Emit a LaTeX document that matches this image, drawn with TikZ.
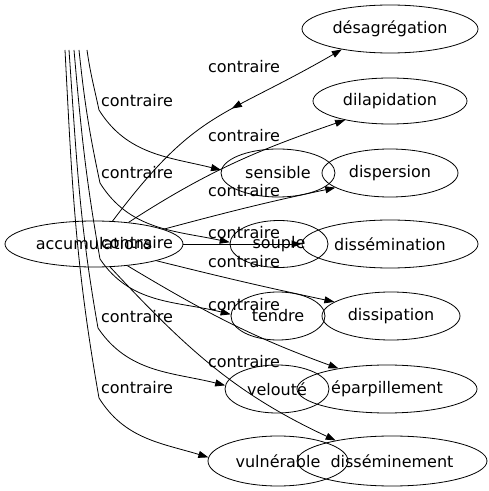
\documentclass[tikz,border=0pt]{standalone}
\usepackage{fontspec}
\setmainfont{DejaVu Sans}
\usetikzlibrary{shapes.geometric,arrows.meta,decorations.markings}

\begin{document}
\begin{tikzpicture}[x=1pt,y=1pt,
    every node/.style={font=\fontsize{16}{19}\selectfont},
    mot/.style={ellipse,draw,line width=0.8pt,inner sep=0pt},
    rel/.style={inner sep=0pt},
    fleche/.style={line width=0.8pt,-{Triangle[length=10pt,width=7pt]}}]

	\useasboundingbox (0,0) rectangle (489,491);

	% Mot central
	\node[mot,minimum width=178pt,minimum height=46pt] (accumulations) at (94,247) {accumulations};

	% Contraires (colonne de droite)
	\node[mot,minimum width=176pt,minimum height=48pt] (desagregation) at (390,462) {désagrégation};
	\node[mot,minimum width=154pt,minimum height=46pt] (dilapidation) at (390,390) {dilapidation};
	\node[mot,minimum width=136pt,minimum height=48pt] (dispersion) at (390,318) {dispersion};
	\node[mot,minimum width=176pt,minimum height=48pt] (dissemination) at (390,247) {dissémination};
	\node[mot,minimum width=138pt,minimum height=48pt] (dissipation) at (391,175) {dissipation};
	\node[mot,minimum width=180pt,minimum height=48pt] (eparpillement) at (387,102) {éparpillement};
	\node[mot,minimum width=190pt,minimum height=50pt] (disseminement) at (392,30) {disséminement};

	% Contraires (colonne du milieu)
	\node[mot,minimum width=114pt,minimum height=48pt] (sensible) at (278,318) {sensible};
	\node[mot,minimum width=98pt,minimum height=47pt] (souple) at (279,247) {souple};
	\node[mot,minimum width=94pt,minimum height=48pt] (tendre) at (278,175) {tendre};
	\node[mot,minimum width=104pt,minimum height=48pt] (veloute) at (277,102) {velouté};
	\node[mot,minimum width=140pt,minimum height=50pt] (vulnerable) at (278,30) {vulnérable};

	% Bouts libres en haut et coudes
	\coordinate (hSens) at (87,441);
	\coordinate (hSoup) at (79,441);
	\coordinate (hTend) at (74,441);
	\coordinate (hVelo) at (69,441);
	\coordinate (hVuln) at (65,441);
	\coordinate (kSens) at (99,381);
	\coordinate (kSoup) at (100,308);
	\coordinate (kTend) at (100,232);
	\coordinate (kVelo) at (98,163);
	\coordinate (kVuln) at (99,93);

	% Arcs venant du haut
	\draw[fleche] (hSens) to[out=-82,in=102] (kSens) to[out=-58,in=166] (sensible.177);
	\draw[fleche] (hSoup) to[out=-84,in=102] (kSoup) to[out=-58,in=168] (souple.178);
	\draw[fleche] (hTend) to[out=-85,in=100] (kTend) to[out=-56,in=166] (tendre.178);
	\draw[fleche] (hVelo) to[out=-86,in=100] (kVelo) to[out=-56,in=166] (veloute.176);
	\draw[fleche] (hVuln) to[out=-87,in=100] (kVuln) to[out=-58,in=163] (vulnerable.177);

	% Arcs partant du mot central
	\draw[fleche,postaction={decorate},
	  decoration={markings,mark=at position 0.57 with {\arrowreversed{Triangle[length=10pt,width=7pt]}}}]
	  (accumulations.51) to[out=53,in=210,looseness=1.25] (desagregation.203);
	\draw[fleche] (accumulations.32) to[out=33,in=199] (dilapidation.203);
	\draw[fleche] (accumulations.12) to[out=15,in=192] (dispersion.195);
	\draw[fleche] (accumulations) -- (dissemination);
	\draw[fleche] (accumulations.-15) to[out=-14,in=168] (dissipation.166);
	\draw[fleche] (accumulations.-33) to[out=-31,in=160] (eparpillement.157);
	\draw[fleche] (accumulations.-55) to[out=-47,in=155] (disseminement.160);

	% Etiquettes
	\node[rel] (cSens) at (137,390) {contraire};
	\node[rel] (cSoup) at (137,318) {contraire};
	\node[rel] (cTend) at (137,248) {contraire};
	\node[rel] (cVelo) at (137,174) {contraire};
	\node[rel] (cVuln) at (137,103) {contraire};
	\node[rel] (cDesa) at (244,424) {contraire};
	\node[rel] (cDila) at (244,355) {contraire};
	\node[rel] (cDisp) at (244,300) {contraire};
	\node[rel] (cDism) at (244,258) {contraire};
	\node[rel] (cDisi) at (244,229) {contraire};
	\node[rel] (cEpar) at (244,186) {contraire};
	\node[rel] (cDisn) at (244,129) {contraire};

\end{tikzpicture}
\end{document}
